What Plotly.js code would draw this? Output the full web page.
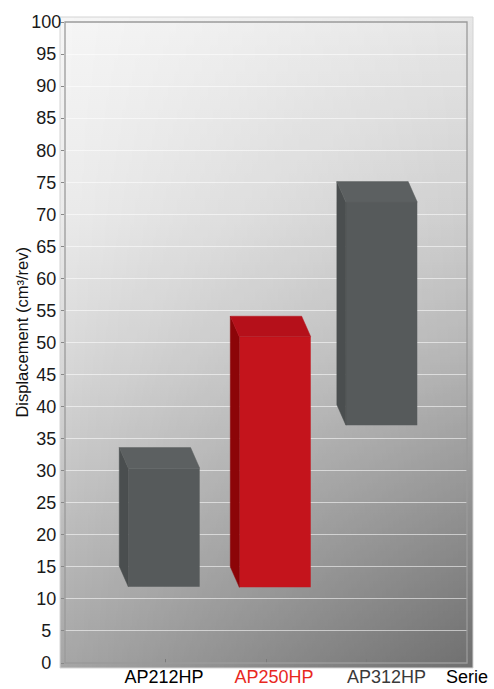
<!DOCTYPE html>
<html><head><meta charset="utf-8">
<script src="https://cdn.plot.ly/plotly-3.0.1.min.js"></script>
<style>html,body{margin:0;padding:0;background:#fff}#chart{width:494px;height:689px}</style>
</head><body><div id="chart"></div>
<script>
// ---- data ----
const categories = ['AP212HP', 'AP250HP', 'AP312HP'];
const lowValues  = [11.9, 11.8, 37.1];
const highValues = [30.4, 50.9, 71.9];
const yTickValues = [0,5,10,15,20,25,30,35,40,45,50,55,60,65,70,75,80,85,90,95,100];
const axisEndLabel = 'Serie';
const yTitle = 'Displacement (cm³/rev)';

// ---- style ----
const slotPos   = [0.985, 2.09, 3.15];
const labelPos  = [0.985, 2.08, 3.2];
const slotTicks = [1, 2, 3, 4];
const labelColors = ['#000000', '#e8281e', '#3a3a3a'];
const frontColors = ['#565a5b', '#c4141c', '#565a5b'];
const sideColors  = ['#4a4e4f', '#8c0508', '#4a4e4f'];
const topColors   = ['#5c6061', '#b5101a', '#5c6061'];
const barWidth = 0.71, depthX = -0.09, depthY = 3.2;
const FONT = 'Liberation Sans, Arial, sans-serif';

const traces = [];
traces.push({
  type: 'bar', x: slotPos, y: highValues.map((h, i) => h - lowValues[i]), base: lowValues,
  width: barWidth, marker: {color: frontColors, line: {width: 0}}, hoverinfo: 'skip', showlegend: false
});
categories.forEach((c, i) => {
  const xl = slotPos[i] - barWidth / 2, xr = slotPos[i] + barWidth / 2;
  const lo = lowValues[i], hi = highValues[i];
  traces.push({
    type: 'scatter', mode: 'lines', fill: 'toself', fillcolor: sideColors[i],
    line: {width: 0.5, color: sideColors[i]},
    x: [xl, xl, xl + depthX, xl + depthX, xl], y: [lo, hi, hi + depthY, lo + depthY, lo],
    hoverinfo: 'skip', showlegend: false
  });
  traces.push({
    type: 'scatter', mode: 'lines', fill: 'toself', fillcolor: topColors[i],
    line: {width: 0.5, color: topColors[i]},
    x: [xl, xr, xr + depthX, xl + depthX, xl], y: [hi, hi, hi + depthY, hi + depthY, hi],
    hoverinfo: 'skip', showlegend: false
  });
});

const yText = yTickValues.map(v => {
  const s = String(v);
  return s.length === 1 ? s + '\u2007' : (s.length === 2 ? s + '\u2008' : s);
});

const svg = "<svg xmlns='http://www.w3.org/2000/svg' width='413' height='651' viewBox='0 0 413 651' preserveAspectRatio='none'>" +
 "<defs>" +
 "<linearGradient id='v' x1='0' y1='0' x2='0' y2='1'>" +
 "<stop offset='0' stop-color='#f6f6f6'/><stop offset='0.3' stop-color='#ebebeb'/><stop offset='0.55' stop-color='#d6d6d6'/><stop offset='1' stop-color='#a6a6a6'/></linearGradient>" +
 "<linearGradient id='h' x1='0' y1='0' x2='1' y2='0'><stop offset='0' stop-color='#000' stop-opacity='0'/><stop offset='1' stop-color='#000' stop-opacity='1'/></linearGradient>" +
 "<linearGradient id='mv' x1='0' y1='0' x2='0' y2='1'><stop offset='0' stop-color='#fff' stop-opacity='0.06'/><stop offset='0.5' stop-color='#fff' stop-opacity='0.16'/><stop offset='1' stop-color='#fff' stop-opacity='0.33'/></linearGradient>" +
 "<mask id='m'><rect width='413' height='651' fill='url(#mv)'/></mask>" +
 "</defs>" +
 "<rect width='413' height='651' fill='url(#v)'/>" +
 "<rect width='413' height='651' fill='url(#h)' mask='url(#m)'/>" +
 "</svg>";
const bgSrc = 'data:image/svg+xml;charset=utf-8,' + encodeURIComponent(svg);

const layout = {
  width: 494, height: 689,
  margin: {l: 65, r: 27, t: 22, b: 26, pad: 0},
  paper_bgcolor: '#ffffff', plot_bgcolor: 'rgba(0,0,0,0)',
  font: {family: FONT, color: '#111'},
  showlegend: false,
  xaxis: {
    range: [0, 4], fixedrange: true, showgrid: false, zeroline: false, showline: false,
    tickmode: 'array', tickvals: labelPos,
    ticktext: categories.map((c, i) => '<span style="color:' + labelColors[i] + '">' + c + '</span>'),
    ticks: '', tickfont: {size: 18, family: FONT}, ticklabelstandoff: 1,
    minor: {tickmode: 'array', tickvals: slotTicks, ticks: 'inside', ticklen: 4, tickcolor: '#7a7a7a', tickwidth: 1, showgrid: false}
  },
  yaxis: {
    range: [0, 100], fixedrange: true, zeroline: false, showline: false,
    tickmode: 'array', tickvals: yTickValues, ticktext: yText,
    ticks: 'outside', ticklen: 3, tickcolor: '#888', tickwidth: 1, ticklabelstandoff: -4,
    showgrid: true, gridcolor: 'rgba(255,255,255,0.55)', gridwidth: 1,
    tickfont: {size: 18, family: FONT, color: '#1a1a1a'}
  },
  images: [{source: bgSrc, xref: 'paper', yref: 'paper', x: -0.0124, y: 1.0078, sizex: 1.0274, sizey: 1.0156,
            xanchor: 'left', yanchor: 'top', sizing: 'stretch', layer: 'below'}],
  shapes: [
    {type: 'rect', xref: 'paper', yref: 'paper', x0: -0.0124, x1: 1.015, y0: -0.0078, y1: 1.0078,
     line: {color: '#d4d4d4', width: 1}, layer: 'below'},
    {type: 'rect', xref: 'paper', yref: 'paper', x0: 0, x1: 1, y0: 0, y1: 1,
     line: {color: '#9a9a9a', width: 1.3}, layer: 'above'}
  ],
  annotations: [
    {text: axisEndLabel, xref: 'paper', yref: 'paper', x: 1.0, y: -0.0225, xanchor: 'center', yanchor: 'middle',
     showarrow: false, font: {size: 18, family: FONT, color: '#000'}},
    {text: yTitle, xref: 'paper', yref: 'paper', x: -0.107, y: 0.517, textangle: -90, xanchor: 'center', yanchor: 'middle',
     showarrow: false, font: {size: 16.5, family: FONT, color: '#111'}}
  ]
};

Plotly.newPlot('chart', traces, layout, {displayModeBar: false, staticPlot: true});
</script>
</body></html>
